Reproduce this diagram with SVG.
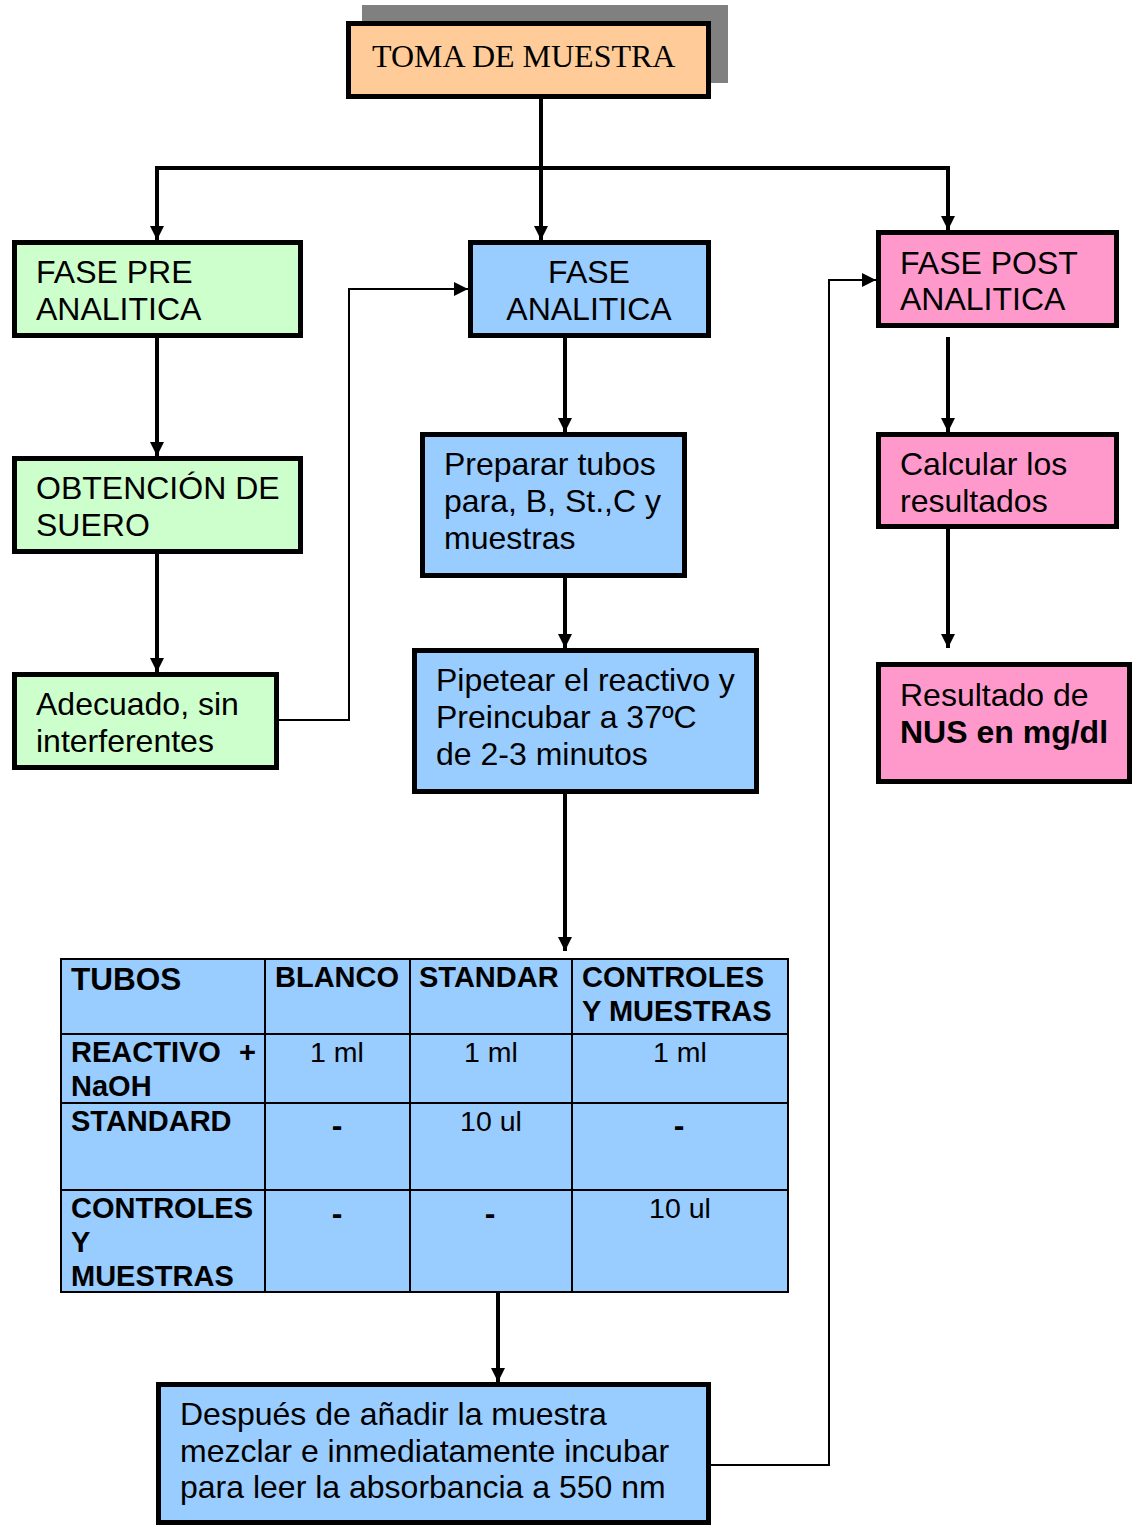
<svg xmlns="http://www.w3.org/2000/svg" width="1133" height="1526" viewBox="0 0 1133 1526">
<style>
.box{stroke:#000;stroke-width:5}
.t{font-family:"Liberation Sans",Arial,sans-serif;font-size:32px;fill:#000}
.b{font-weight:bold}
.tb{font-family:"Liberation Sans",Arial,sans-serif;font-size:29px;font-weight:bold;fill:#000}
.tv{font-family:"Liberation Sans",Arial,sans-serif;font-size:28.5px;fill:#000}
.c{text-anchor:middle}
.thick{fill:none;stroke:#000;stroke-width:4}
.thin{fill:none;stroke:#000;stroke-width:2}
.grid{fill:none;stroke:#000;stroke-width:2}
</style>
<defs>
<marker id="ah" viewBox="0 0 14 14" refX="14" refY="7" markerWidth="14" markerHeight="14" markerUnits="userSpaceOnUse" orient="auto">
<path d="M0,0 L14,7 L0,14 z" fill="#000"/>
</marker>
</defs>
<rect width="1133" height="1526" fill="#fff"/>

<g id="connectors">
<path class="thick" d="M541,99 V240" marker-end="url(#ah)"/>
<path class="thick" d="M157,240 V168 H948 V230" marker-end="url(#ah)"/>
<path class="thick" d="M157,168 V240" marker-end="url(#ah)"/>
<path class="thick" d="M157,337 V456" marker-end="url(#ah)"/>
<path class="thick" d="M157,553 V672" marker-end="url(#ah)"/>
<path class="thin" d="M278,720 H349 V289 H468" marker-end="url(#ah)"/>
<path class="thick" d="M565,337 V432" marker-end="url(#ah)"/>
<path class="thick" d="M565,577 V648" marker-end="url(#ah)"/>
<path class="thick" d="M565,793 V951" marker-end="url(#ah)"/>
<path class="thick" d="M498,1288 V1382" marker-end="url(#ah)"/>
<path class="thin" d="M710,1465 H829 V280 H876" marker-end="url(#ah)"/>
<path class="thick" d="M948,337 V432" marker-end="url(#ah)"/>
<path class="thick" d="M948,528 V648" marker-end="url(#ah)"/>
</g>

<g id="toma">
<rect x="362" y="5" width="366" height="78" fill="#808080"/>
<rect class="box" x="348.5" y="23.5" width="360" height="73" fill="#ffcc99"/>
<text x="372" y="67" style="font-family:'Liberation Serif','Times New Roman',serif;font-size:32px">TOMA DE MUESTRA</text>
</g>

<g id="fase-pre">
<rect class="box" x="14.5" y="242.5" width="286" height="93" fill="#ccffcc"/>
<text class="t" x="36" y="283">FASE PRE</text>
<text class="t" x="36" y="320">ANALITICA</text>
</g>

<g id="obtencion">
<rect class="box" x="14.5" y="458.5" width="286" height="93" fill="#ccffcc"/>
<text class="t" x="36" y="499">OBTENCIÓN DE</text>
<text class="t" x="36" y="536">SUERO</text>
</g>

<g id="adecuado">
<rect class="box" x="14.5" y="674.5" width="262" height="93" fill="#ccffcc"/>
<text class="t" x="36" y="715">Adecuado, sin</text>
<text class="t" x="36" y="752">interferentes</text>
</g>

<g id="fase-analitica">
<rect class="box" x="470.5" y="242.5" width="238" height="93" fill="#99ccff"/>
<text class="t c" x="589" y="283">FASE</text>
<text class="t c" x="589" y="320">ANALITICA</text>
</g>

<g id="preparar">
<rect class="box" x="422.5" y="434.5" width="262" height="141" fill="#99ccff"/>
<text class="t" x="444" y="475">Preparar tubos</text>
<text class="t" x="444" y="512">para, B, St.,C y</text>
<text class="t" x="444" y="549">muestras</text>
</g>

<g id="pipetear">
<rect class="box" x="414.5" y="650.5" width="342" height="141" fill="#99ccff"/>
<text class="t" x="436" y="691">Pipetear el reactivo y</text>
<text class="t" x="436" y="728">Preincubar a 37ºC</text>
<text class="t" x="436" y="765">de 2-3 minutos</text>
</g>

<g id="fase-post">
<rect class="box" x="878.5" y="232.5" width="238" height="93" fill="#ff99cc"/>
<text class="t" x="900" y="274">FASE POST</text>
<text class="t" x="900" y="310">ANALITICA</text>
</g>

<g id="calcular">
<rect class="box" x="878.5" y="434.5" width="238" height="92" fill="#ff99cc"/>
<text class="t" x="900" y="475">Calcular los</text>
<text class="t" x="900" y="512">resultados</text>
</g>

<g id="resultado">
<rect class="box" x="878.5" y="664.5" width="251" height="117" fill="#ff99cc"/>
<text class="t" x="900" y="706">Resultado de</text>
<text class="t b" x="900" y="743">NUS en mg/dl</text>
</g>

<g id="tabla">
<rect x="61" y="959" width="727" height="333" fill="#99ccff"/>
<path class="grid" d="M61,959 H788 V1292 H61 Z M265,959 V1292 M410,959 V1292 M572,959 V1292 M61,1034 H788 M61,1103 H788 M61,1190 H788"/>
<text class="tb" x="71" y="990" style="font-size:31.5px">TUBOS</text>
<text class="tb" x="275" y="987">BLANCO</text>
<text class="tb" x="419" y="987">STANDAR</text>
<text class="tb" x="582" y="987">CONTROLES</text>
<text class="tb" x="582" y="1021">Y MUESTRAS</text>
<text class="tb" x="71" y="1062">REACTIVO</text>
<text class="tb" x="239" y="1062">+</text>
<text class="tb" x="71" y="1096">NaOH</text>
<text class="tv c" x="337" y="1062">1 ml</text>
<text class="tv c" x="491" y="1062">1 ml</text>
<text class="tv c" x="680" y="1062">1 ml</text>
<text class="tb" x="71" y="1131">STANDARD</text>
<text class="tb c" x="337" y="1136" style="font-size:32px">-</text>
<text class="tv c" x="491" y="1131">10 ul</text>
<text class="tb c" x="679" y="1136" style="font-size:32px">-</text>
<text class="tb" x="71" y="1218">CONTROLES</text>
<text class="tb" x="71" y="1252">Y</text>
<text class="tb" x="71" y="1286">MUESTRAS</text>
<text class="tb c" x="337" y="1224" style="font-size:32px">-</text>
<text class="tb c" x="490" y="1224" style="font-size:32px">-</text>
<text class="tv c" x="680" y="1218">10 ul</text>
</g>

<g id="despues">
<rect class="box" x="158.5" y="1384.5" width="550" height="138" fill="#99ccff"/>
<text class="t" x="180" y="1425">Después de añadir la muestra</text>
<text class="t" x="180" y="1462">mezclar e inmediatamente incubar</text>
<text class="t" x="180" y="1498">para leer la absorbancia a 550 nm</text>
</g>
</svg>
